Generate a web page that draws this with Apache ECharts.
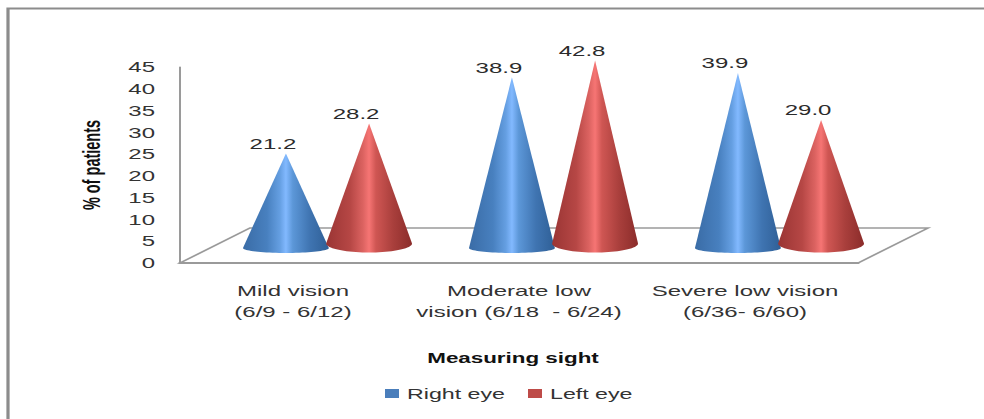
<!DOCTYPE html>
<html>
<head>
<meta charset="utf-8">
<style>
html,body{margin:0;padding:0;background:#fff;overflow:hidden}
#chart{height:419px;transform-origin:0 0}
</style>
<script src="https://cdn.jsdelivr.net/npm/echarts@6/dist/echarts.min.js"></script>
</head>
<body>
<div id="chart"></div>
<script>
const categories = ['Mild vision\n(6/9 - 6/12)', 'Moderate low\nvision (6/18  - 6/24)', 'Severe low vision\n(6/36- 6/60)'];
const rightEye = [21.2, 38.9, 39.9];
const leftEye = [28.2, 42.8, 29.0];
const yTicks = { min: 0, max: 45, interval: 5 };
const axisTitleY = '% of patients';
const axisTitleX = 'Measuring sight';

// The whole chart is laid out narrow and widened by this factor
const STRETCH = 1.6;
const sx = px => px / STRETCH;

const FONT = '"Liberation Sans"';
const BLUE_STOPS = [[0, '#3a6ca6'], [0.28, '#4880bf'], [0.43, '#659fe2'], [0.5, '#82b9ff'], [0.58, '#5c97d8'], [0.78, '#3f74b1'], [1, '#2f5f96']];
const RED_STOPS = [[0, '#9a3534'], [0.28, '#b64745'], [0.43, '#dc6361'], [0.5, '#f67574'], [0.58, '#cf5653'], [0.78, '#a93f3c'], [1, '#8b2c2a']];

// Horizontal shading that gives each cone its rounded look
function coneFill(stops) {
  return {
    type: 'linear', x: 0, y: 0, x2: 1, y2: 0,
    colorStops: stops.map(([offset, color]) => ({ offset, color }))
  };
}

// One cone: apex at the value, elliptical base on the floor (value 0)
function coneSeries(name, values, side, stops, legendColor, baseShift, ry) {
  return {
    type: 'custom',
    name,
    xAxisIndex: 1,
    yAxisIndex: 1,
    itemStyle: { color: legendColor },
    data: values.map((v, i) => [i, v]),
    encode: { x: 0, y: 1 },
    z: side < 0 ? 3 : 4,
    renderItem(params, api) {
      const band = api.size([1, 0])[0];
      const centre = api.coord([api.value(0), 0]);
      const apex = api.coord([api.value(0), api.value(1)]);
      const cx = centre[0] + side * band * 0.184;
      const rx = band * 0.19;
      const baseY = centre[1] + baseShift;
      const pts = [[cx, apex[1]]];
      for (let k = 0; k <= 40; k++) {
        const a = Math.PI * k / 40;
        pts.push([cx + rx * Math.cos(a), baseY + ry * Math.sin(a)]);
      }
      return {
        type: 'group',
        children: [
          { type: 'polygon', shape: { points: pts }, style: { fill: coneFill(stops) } },
          {
            type: 'text',
            x: cx - sx(13),
            y: apex[1] - 10,
            style: {
              text: api.value(1).toFixed(1),
              font: '15px ' + FONT,
              fill: '#2b2b2b',
              align: 'center',
              verticalAlign: 'middle'
            }
          }
        ]
      };
    }
  };
}

// Chart floor: a parallelogram receding from the category axis
const floorSeries = {
  type: 'custom',
  silent: true,
  xAxisIndex: 0,
  yAxisIndex: 0,
  data: [[0, 0]],
  encode: { x: 0, y: 1 },
  z: 1,
  renderItem(params) {
    const c = params.coordSys;
    const y = c.y + c.height;
    const depthX = sx(70), depthY = -35;
    return {
      type: 'polygon',
      shape: { points: [[c.x, y], [c.x + c.width, y], [c.x + c.width + depthX, y + depthY], [c.x + depthX, y + depthY]] },
      style: { fill: 'none', stroke: '#9a9a9a', lineWidth: 1.5 }
    };
  }
};

const el = document.getElementById('chart');
el.style.width = sx(984) + 'px';
el.style.transform = 'scaleX(' + STRETCH + ')';

const chart = echarts.init(el, null, { renderer: 'svg' });
chart.setOption({
  animation: false,
  backgroundColor: '#fff',
  graphic: [{
    type: 'polyline',
    shape: { points: [[sx(8), 430], [sx(8), 8.5], [sx(990), 8.5]] },
    style: { fill: 'none', stroke: '#8c8c8c', lineWidth: 2 },
    silent: true
  }],
  grid: [
    { left: sx(180), top: 67, width: sx(678), height: 196 },
    { left: sx(214.5), top: 51, width: sx(678), height: 194 }
  ],
  xAxis: [
    {
      type: 'category', gridIndex: 0, data: categories,
      axisTick: { show: false },
      axisLine: { lineStyle: { color: '#9a9a9a', width: 2 } },
      axisLabel: { fontFamily: FONT, fontSize: 15, color: '#333', lineHeight: 21, margin: 17, interval: 0 },
      name: axisTitleX,
      nameLocation: 'middle',
      nameGap: 88,
      nameTextStyle: { fontFamily: FONT, fontSize: 14, fontWeight: 'bold', color: '#111', padding: [0, sx(12), 0, 0] }
    },
    { type: 'category', gridIndex: 1, data: categories, show: false }
  ],
  yAxis: [
    {
      type: 'value', gridIndex: 0, min: yTicks.min, max: yTicks.max, interval: yTicks.interval,
      splitLine: { show: false },
      axisTick: { show: false },
      axisLine: { show: true, lineStyle: { color: '#9a9a9a', width: sx(2) } },
      axisLabel: { fontFamily: FONT, fontSize: 15, color: '#333', margin: sx(25) },
      name: axisTitleY,
      nameLocation: 'middle',
      nameGap: sx(76),
      nameTextStyle: { fontFamily: FONT, fontSize: 14.5, fontWeight: 'bold', color: '#111' }
    },
    { type: 'value', gridIndex: 1, min: yTicks.min, max: yTicks.max, interval: yTicks.interval, show: false }
  ],
  legend: {
    left: sx(385), top: 386,
    padding: 0,
    itemWidth: sx(14), itemHeight: 9, itemGap: sx(23),
    icon: 'rect',
    data: ['Right eye', 'Left eye'],
    textStyle: { fontFamily: FONT, fontSize: 14.5, color: '#333' }
  },
  series: [
    floorSeries,
    coneSeries('Right eye', rightEye, -1, BLUE_STOPS, '#4a7ebb', 3, 5),
    coneSeries('Left eye', leftEye, 1, RED_STOPS, '#be4b48', -1.5, 9)
  ]
});
</script>
</body>
</html>
